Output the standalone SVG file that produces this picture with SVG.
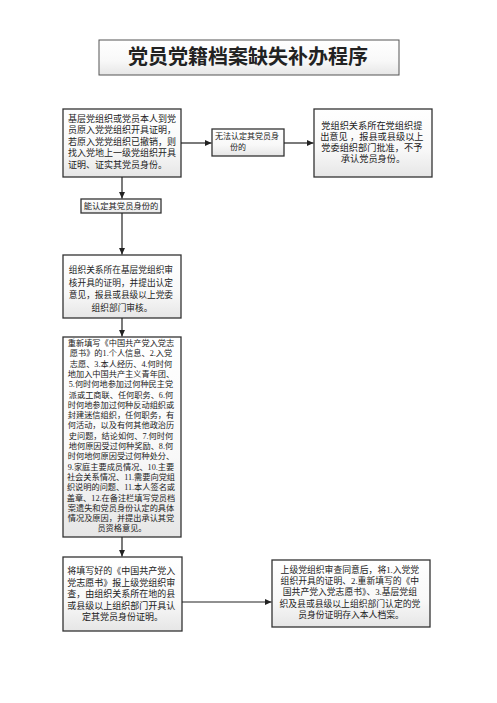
<svg xmlns="http://www.w3.org/2000/svg" width="497" height="703" viewBox="0 0 497 703">
<defs>
<linearGradient id="g" x1="0" y1="0" x2="0" y2="1">
<stop offset="0" stop-color="#ffffff"/>
<stop offset="0.6" stop-color="#f8f8f8"/>
<stop offset="1" stop-color="#e6e6e6"/>
</linearGradient>
<marker id="ah" markerWidth="8" markerHeight="8" refX="7" refY="4" orient="auto" markerUnits="userSpaceOnUse">
<path d="M0,0.8 L7,4 L0,7.2 Z" fill="#222"/>
</marker>
</defs>
<style>
.box{fill:url(#g);stroke:#333;stroke-width:1.3}
.t{font-family:"Liberation Serif","Noto Sans CJK SC",serif;fill:#222;text-anchor:middle}
.s{font-size:9px}
.s8{font-size:8.2px}
.ln{stroke:#222;stroke-width:1.2;fill:none}
</style>
<rect width="497" height="703" fill="#ffffff"/>
<g id="title">
<rect x="99" y="40" width="300" height="35" fill="url(#g)" stroke="#555" stroke-width="1"/>
<text x="248" y="64" class="t" style="font-size:20px;font-weight:700">党员党籍档案缺失补办程序</text>
</g>
<g id="n1">
<rect class="box" x="63" y="109" width="118" height="68"/>
<text class="t s" style="text-anchor:start">
<tspan x="68" y="121.5">基层党组织或党员本人到党</tspan>
<tspan x="68" y="133">员原入党党组织开具证明，</tspan>
<tspan x="68" y="144.5">若原入党党组织已撤销，则</tspan>
<tspan x="68" y="156">找入党地上一级党组织开具</tspan>
<tspan x="68" y="167.5">证明、证实其党员身份。</tspan>
</text>
</g>
<g id="n2">
<rect class="box" x="212" y="129" width="72" height="27"/>
<text class="t" style="font-size:8px;text-anchor:start">
<tspan x="215" y="139">无法认定其党员身</tspan>
<tspan x="230" y="150">份的</tspan>
</text>
</g>
<g id="n3">
<rect class="box" x="314" y="109" width="118" height="68"/>
<text class="t" style="font-size:9.2px">
<tspan x="373" y="128.5">党组织关系所在党组织提</tspan>
<tspan x="373" y="139.5">出意见 ，报县或县级以上</tspan>
<tspan x="373" y="150.5">党委组织部门批准，不予</tspan>
<tspan x="373" y="161.5">承认党员身份。</tspan>
</text>
</g>
<g id="n4">
<rect class="box" x="81" y="199" width="80" height="14"/>
<text class="t" style="font-size:8.3px" x="121" y="209">能认定其党员身份的</text>
</g>
<g id="n5">
<rect class="box" x="63" y="255" width="118" height="63"/>
<text class="t" style="font-size:8.7px">
<tspan x="122" y="273">组织关系所在基层党组织审</tspan>
<tspan x="122" y="285.5">核开具的证明，并提出认定</tspan>
<tspan x="122" y="298">意见，报县或县级以上党委</tspan>
<tspan x="122" y="310.5">组织部门审核。</tspan>
</text>
</g>
<g id="n6">
<rect class="box" x="63" y="337" width="118" height="200"/>
<text class="t s8">
<tspan x="122" y="346">重新填写《中国共产党入党志</tspan>
<tspan x="122" y="356.3">愿书》的1.个人信息、2.入党</tspan>
<tspan x="122" y="366.6">志愿、3.本人经历、4.何时何</tspan>
<tspan x="122" y="376.9">地加入中国共产主义青年团、</tspan>
<tspan x="122" y="387.2">5.何时何地参加过何种民主党</tspan>
<tspan x="122" y="397.5">派或工商联、任何职务、6.何</tspan>
<tspan x="122" y="407.8">时何地参加过何种反动组织或</tspan>
<tspan x="122" y="418.1">封建迷信组织，任何职务，有</tspan>
<tspan x="122" y="428.4">何活动，以及有何其他政治历</tspan>
<tspan x="122" y="438.7">史问题，结论如何、7.何时何</tspan>
<tspan x="122" y="449">地何原因受过何种奖励、8.何</tspan>
<tspan x="122" y="459.3">时何地何原因受过何种处分、</tspan>
<tspan x="122" y="469.6">9.家庭主要成员情况、10.主要</tspan>
<tspan x="122" y="479.9">社会关系情况、11.需要向党组</tspan>
<tspan x="122" y="490.2">织说明的问题、11.本人签名或</tspan>
<tspan x="122" y="500.5">盖章、12.在备注栏填写党员档</tspan>
<tspan x="122" y="510.8">案遗失和党员身份认定的具体</tspan>
<tspan x="122" y="521.1">情况及原因，并提出承认其党</tspan>
<tspan x="122" y="531.4">员资格意见。</tspan>
</text>
</g>
<g id="n7">
<rect class="box" x="63" y="557" width="119" height="74"/>
<text class="t s">
<tspan x="122.5" y="574">将填写好的《中国共产党入</tspan>
<tspan x="122.5" y="585.5">党志愿书》报上级党组织审</tspan>
<tspan x="122.5" y="597">查，由组织关系所在地的县</tspan>
<tspan x="122.5" y="608.5">或县级以上组织部门开具认</tspan>
<tspan x="122.5" y="620">定其党员身份证明。</tspan>
</text>
</g>
<g id="n8">
<rect class="box" x="272" y="560" width="158" height="67"/>
<text class="t" style="font-size:8.8px">
<tspan x="351" y="573">上级党组织审查同意后，将1.入党党</tspan>
<tspan x="351" y="584.2">组织开具的证明、2.重新填写的《中</tspan>
<tspan x="351" y="595.4">国共产党入党志愿书》、3.基层党组</tspan>
<tspan x="351" y="606.6">织及县或县级以上组织部门认定的党</tspan>
<tspan x="351" y="617.8">员身份证明存入本人档案。</tspan>
</text>
</g>
<g id="connectors">
<line class="ln" x1="181" y1="143" x2="211.5" y2="143" marker-end="url(#ah)"/>
<line class="ln" x1="284" y1="143" x2="313.5" y2="143" marker-end="url(#ah)"/>
<line class="ln" x1="122" y1="177" x2="122" y2="198.5" marker-end="url(#ah)"/>
<line class="ln" x1="122" y1="213" x2="122" y2="254.5" marker-end="url(#ah)"/>
<line class="ln" x1="122" y1="318" x2="122" y2="336.5" marker-end="url(#ah)"/>
<line class="ln" x1="122" y1="537" x2="122" y2="556.5" marker-end="url(#ah)"/>
<line class="ln" x1="182" y1="602" x2="271.5" y2="602" marker-end="url(#ah)"/>
</g>
</svg>
